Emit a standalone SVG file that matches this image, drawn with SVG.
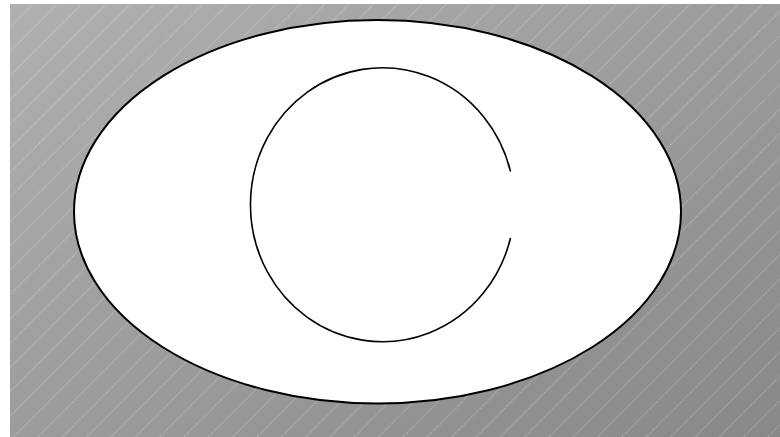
<svg xmlns="http://www.w3.org/2000/svg" width="780" height="437" viewBox="0 0 780 437">
  <defs>
    <linearGradient id="bg" x1="0" y1="0" x2="1" y2="1">
      <stop offset="0" stop-color="#b0b0b0"/>
      <stop offset="1" stop-color="#888888"/>
    </linearGradient>
    <pattern id="hatch" patternUnits="userSpaceOnUse" x="12.67" y="0" width="24.33" height="24.33">
      <path d="M-2,26.33 L26.33,-2" stroke="#ffffff" stroke-opacity="0.4" stroke-width="1" stroke-dasharray="1,1" fill="none"/>
    </pattern>
    <style>
      .outline { fill: none; stroke: #000000; }
    </style>
  </defs>
  <g id="background">
    <rect x="10" y="4" width="770" height="433" fill="url(#bg)"/>
    <rect x="10" y="4" width="770" height="433" fill="url(#hatch)"/>
  </g>
  <g id="outer">
    <ellipse cx="377.5" cy="211.7" rx="303.5" ry="191.7" fill="#ffffff" stroke="#000000" stroke-width="2"/>
  </g>
  <g id="letter">
    <path class="outline" stroke-width="1.6" d="M510.5,171.5 A132,137 0 1,0 510.5,238"/>
  </g>
</svg>
